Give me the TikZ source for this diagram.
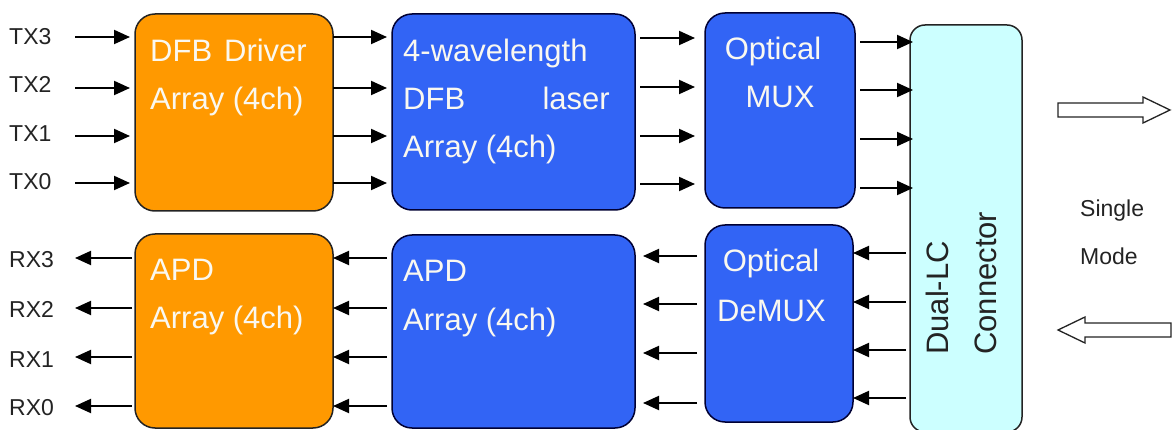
\documentclass[tikz,border=0pt]{standalone}
\usepackage{fontspec}
\setmainfont{Liberation Sans}
\usetikzlibrary{arrows.meta}
\definecolor{orng}{RGB}{255,153,0}
\definecolor{blu}{RGB}{50,100,245}
\definecolor{cyn}{RGB}{204,255,255}
\definecolor{txtw}{RGB}{250,248,240}
\definecolor{ink}{RGB}{35,35,35}
\begin{document}
\begin{tikzpicture}[x=1pt,y=-1pt,
  box/.style={draw=ink, line width=1.5pt, rounded corners=20pt, anchor=north west, inner sep=0pt, outer sep=0pt},
  obox/.style={box, fill=orng},
  bbox/.style={box, fill=blu, draw=blue!20!black},
  cbox/.style={box, fill=cyn, rounded corners=15pt},
  arr/.style={line width=2pt, draw=black, -{Triangle[length=16pt,width=14pt]}},
  btxt/.style={text=txtw, font=\fontsize{31}{36}\selectfont, inner sep=0pt},
  ctxt/.style={text=ink, font=\fontsize{31}{36}\selectfont, inner sep=0pt, rotate=90, anchor=base west},
  lbl/.style={font=\fontsize{23}{26}\selectfont, text=ink, inner sep=0pt, anchor=base west},
  hollow/.style={draw=ink, line width=1.3pt, fill=white, line join=miter},
]
\useasboundingbox (0,0) rectangle (1172,430);

% boxes
\node[obox, minimum width=198pt, minimum height=197pt] (drvT) at (135,14) {};
\node[bbox, minimum width=243pt, minimum height=196pt] (lasT) at (392,14) {};
\node[bbox, minimum width=150pt, minimum height=195pt] (muxT) at (705,13) {};
\node[cbox, minimum width=112pt, minimum height=407pt] (conn) at (910,25) {};
\node[bbox, minimum width=148pt, minimum height=197pt] (dmx) at (705,225) {};
\node[bbox, minimum width=243pt, minimum height=193pt] (apdB) at (392,235) {};
\node[obox, minimum width=198pt, minimum height=194pt] (apdO) at (135,234) {};

% box texts
\node[btxt, anchor=base west] (d1) at (150,62) {DFB};
\node[btxt, anchor=base east] (d2) at (307,62) {Driver};
\node[btxt, anchor=base west] (d3) at (150,110) {Array (4ch)};
\node[btxt, anchor=base west] (l1) at (403,62) {4-wavelength};
\node[btxt, anchor=base west] (l2) at (403,110) {DFB};
\node[btxt, anchor=base east] (l3) at (610,110) {laser};
\node[btxt, anchor=base] (m1) at (773,60) {Optical};
\node[btxt, anchor=base] (m2) at (780,108) {MUX};
\node[btxt, anchor=base west] (l4) at (403,158) {Array (4ch)};
\node[btxt, anchor=base] (m3) at (771,272) {Optical};
\node[btxt, anchor=base west] (m4) at (717,321) {DeMUX};
\node[btxt, anchor=base west] (a1) at (403,282) {APD};
\node[btxt, anchor=base west] (a2) at (403,330) {Array (4ch)};
\node[btxt, anchor=base west] (o1) at (150,280) {APD};
\node[btxt, anchor=base west] (o2) at (150,328) {Array (4ch)};
\node[ctxt] (c1) at (948,355) {Dual-LC};
\node[ctxt] (c2) at (996,355) {Connector};

% labels
\node[lbl] (tx3) at (9,45) {TX3};
\node[lbl] (tx2) at (9,93) {TX2};
\node[lbl] (tx1) at (9,142) {TX1};
\node[lbl] (tx0) at (9,190) {TX0};
\node[lbl] (rx3) at (9,268) {RX3};
\node[lbl] (rx2) at (9,317) {RX2};
\node[lbl] (rx1) at (9,367) {RX1};
\node[lbl] (rx0) at (9,415) {RX0};
\node[lbl] (sg) at (1080,217) {Single};
\node[lbl] (md) at (1080,265) {Mode};

% transmit arrows
\foreach \y in {37,88,136,183} {
  \draw[arr] (75,\y) -- ([xshift=-5pt]drvT.west |- 0,\y);
  \draw[arr] (drvT.east |- 0,\y) -- ([xshift=-5pt]lasT.west |- 0,\y);
}
\foreach \y in {38,87,136,184} {
  \draw[arr] ([xshift=5pt]lasT.east |- 0,\y) -- ([xshift=-10pt]muxT.west |- 0,\y);
}
\foreach \y in {42,90,139,188} {
  \draw[arr] ([xshift=5pt]muxT.east |- 0,\y) -- ([xshift=3pt]conn.west |- 0,\y);
}
% receive arrows
\foreach \y in {253,302,350,398} {
  \draw[arr] ([xshift=-4pt]conn.west |- 0,\y) -- (dmx.east |- 0,\y);
}
\foreach \y in {256,304,353,403} {
  \draw[arr] ([xshift=-8pt]dmx.west |- 0,\y) -- ([xshift=8pt]apdB.east |- 0,\y);
}
\foreach \y in {258,308,357,406} {
  \draw[arr] ([xshift=-5pt]apdB.west |- 0,\y) -- (apdO.east |- 0,\y);
  \draw[arr] ([xshift=-3pt]apdO.west |- 0,\y) -- (75,\y);
}

% hollow arrows
\draw[hollow] (1058,103) -- (1143,103) -- (1143,97) -- (1170,110) -- (1143,123) -- (1143,117) -- (1058,117) -- cycle;
\draw[hollow] (1171,323) -- (1085,323) -- (1085,317) -- (1058,330) -- (1085,343) -- (1085,337) -- (1171,337) -- cycle;
\end{tikzpicture}
\end{document}
